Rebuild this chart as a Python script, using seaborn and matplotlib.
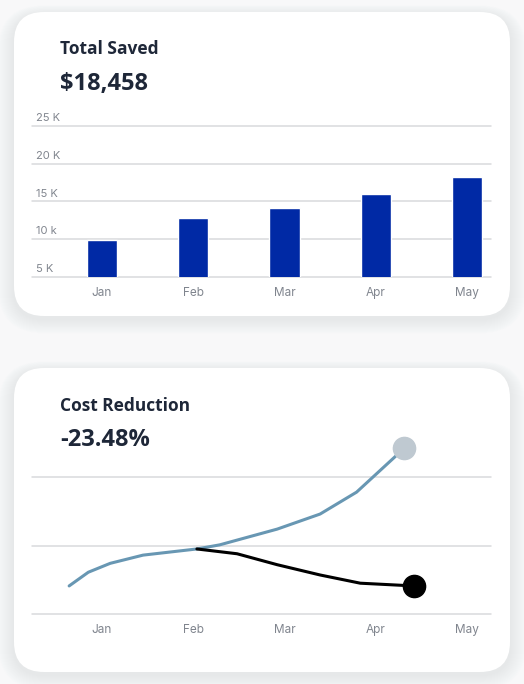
import numpy as np
import pandas as pd
import matplotlib
matplotlib.use("Agg")
import matplotlib.pyplot as plt
from matplotlib.patches import FancyBboxPatch
import seaborn as sns

# data
months = ["Jan", "Feb", "Mar", "Apr", "May"]
saved_k = [9.9, 12.8, 14.1, 16.0, 18.2]
saved_ticks = [5, 10, 15, 20, 25]
saved_tick_labels = ["5 K", "10 k", "15 K", "20 K", "25 K"]

# cost reduction curves, x in months from Jan, y in chart units
trend_x = [-0.36, -0.15, 0.09, 0.45, 1.04, 1.29, 1.92, 2.39, 2.79, 3.23, 3.31]
trend_y = [0.41, 0.61, 0.74, 0.86, 0.95, 1.01, 1.24, 1.46, 1.78, 2.32, 2.42]
cost_x = [1.04, 1.48, 1.92, 2.39, 2.83, 3.27, 3.42]
cost_y = [0.95, 0.88, 0.72, 0.57, 0.45, 0.42, 0.41]

W, H = 524, 684
BAR = "#0029a5"
TITLE = "#1e2738"
TICK = "#80858e"
GRID = "#d8dadd"

sns.set_style("white")
plt.rcParams["font.family"] = ["Open Sans", "DejaVu Sans"]

fig = plt.figure(figsize=(W / 100, H / 100), dpi=100)
fig.patch.set_facecolor("#f8f8f9")

# background layer in pixel coordinates for the cards
bg = fig.add_axes([0, 0, 1, 1], zorder=-10)
bg.set_xlim(0, W)
bg.set_ylim(H, 0)
bg.axis("off")

for (x0, y0, x1, y1) in [(14, 12, 510, 316), (14, 368, 510, 672)]:
    for i in range(16, 0, -1):
        bg.add_patch(FancyBboxPatch((x0 - i, y0 + 3 - i * 0.6), x1 - x0 + i * 2, y1 - y0 + i * 1.5,
                                    boxstyle="round,pad=0,rounding_size=%f" % (30 + i),
                                    fc="#a0a5ad", ec="none", alpha=0.012))
    bg.add_patch(FancyBboxPatch((x0, y0), x1 - x0, y1 - y0,
                                boxstyle="round,pad=0,rounding_size=30", fc="white", ec="none"))

bg.text(60, 49, "Total Saved", fontsize=12.5, fontweight="bold", color=TITLE, va="center")
bg.text(60, 84, "$18,458", fontsize=17, fontweight="bold", color=TITLE, va="center")
bg.text(60, 406, "Cost Reduction", fontsize=12.5, fontweight="bold", color=TITLE, va="center")
bg.text(60, 440, "-23.48%", fontsize=17, fontweight="bold", color=TITLE, va="center")

tick_font = ["Inter", "DejaVu Sans"]

# --- Total Saved bar chart ---
ax1 = fig.add_axes([32 / W, 1 - 277 / H, 459 / W, 151 / H])
ax1.set_facecolor("none")
df = pd.DataFrame({"month": months, "saved": saved_k})
sns.barplot(data=df, x="month", y="saved", color=BAR, width=0.33, saturation=1, ax=ax1, zorder=3)
ax1.set_xlim(-0.767, 4.263)
ax1.set_ylim(5, 25)
ax1.set_yticks(saved_ticks)
ax1.set_yticklabels([])
for v in saved_ticks:
    ax1.axhline(v, color=GRID, linewidth=1.1, zorder=1, clip_on=False)
for v, lab in zip(saved_ticks, saved_tick_labels):
    ax1.annotate(lab, xy=(0, v), xycoords=ax1.get_yaxis_transform(), xytext=(3, 2),
                 textcoords="offset points", ha="left", va="bottom", fontsize=8,
                 color=TICK, family=tick_font)
ax1.set_xlabel("")
ax1.set_ylabel("")
ax1.tick_params(axis="both", length=0)
ax1.tick_params(axis="x", pad=7, labelsize=8.5, labelcolor=TICK)
for t in ax1.get_xticklabels():
    t.set_family(tick_font)
sns.despine(ax=ax1, left=True, top=True, right=True, bottom=True)

# --- Cost Reduction line chart ---
ax2 = fig.add_axes([32 / W, 1 - 614 / H, 459 / W, 178 / H])
ax2.set_facecolor("none")
sns.lineplot(x=trend_x, y=trend_y, sort=False, color="#6897b3", linewidth=2.2, ax=ax2, zorder=3)
sns.lineplot(x=cost_x, y=cost_y, sort=False, color="black", linewidth=2.2, ax=ax2, zorder=4)
ax2.plot(trend_x[-1], trend_y[-1], "o", color="#bfc9d1", markersize=16, zorder=5, clip_on=False)
ax2.plot(cost_x[-1], cost_y[-1], "o", color="black", markersize=16, zorder=5, clip_on=False)
ax2.set_xlim(-0.767, 4.263)
ax2.set_ylim(0, 2.6)
ax2.set_xticks(range(len(months)))
ax2.set_xticklabels(months, family=tick_font)
ax2.set_yticks([0, 1, 2])
ax2.set_yticklabels([])
for v in [0, 1, 2]:
    ax2.axhline(v, color=GRID, linewidth=1.1, zorder=1, clip_on=False)
ax2.tick_params(axis="both", length=0)
ax2.tick_params(axis="x", pad=7, labelsize=8.5, labelcolor=TICK)
sns.despine(ax=ax2, left=True, top=True, right=True, bottom=True)

fig.savefig("out.png", dpi=100, facecolor=fig.get_facecolor())
